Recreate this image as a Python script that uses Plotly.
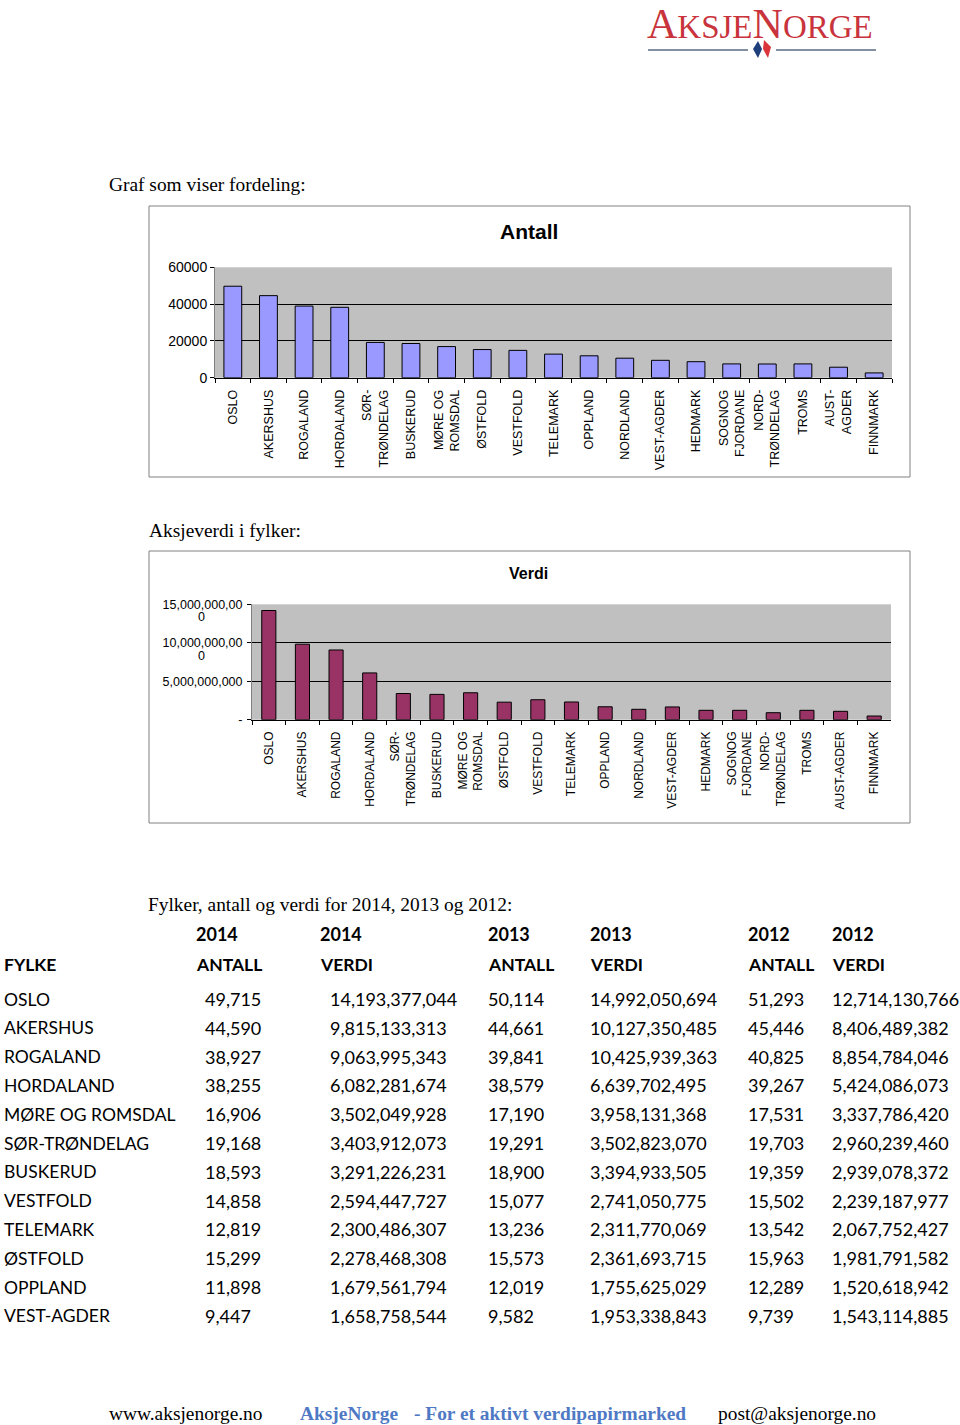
import plotly.graph_objs as go

W, H = 960, 1425

# chart data (bars ordered by antall 2014)
fylker = ["OSLO", "AKERSHUS", "ROGALAND", "HORDALAND", "SØR-TRØNDELAG", "BUSKERUD",
          "MØRE OG ROMSDAL", "ØSTFOLD", "VESTFOLD", "TELEMARK", "OPPLAND", "NORDLAND",
          "VEST-AGDER", "HEDMARK", "SOGN OG FJORDANE", "NORD-TRØNDELAG", "TROMS",
          "AUST-AGDER", "FINNMARK"]
labels_antall = ["OSLO", "AKERSHUS", "ROGALAND", "HORDALAND", "SØR-<br>TRØNDELAG", "BUSKERUD",
                 "MØRE OG<br>ROMSDAL", "ØSTFOLD", "VESTFOLD", "TELEMARK", "OPPLAND", "NORDLAND",
                 "VEST-AGDER", "HEDMARK", "SOGNOG<br>FJORDANE", "NORD-<br>TRØNDELAG", "TROMS",
                 "AUST-<br>AGDER", "FINNMARK"]
labels_verdi = ["OSLO", "AKERSHUS", "ROGALAND", "HORDALAND", "SØR-<br>TRØNDELAG", "BUSKERUD",
                "MØRE OG<br>ROMSDAL", "ØSTFOLD", "VESTFOLD", "TELEMARK", "OPPLAND", "NORDLAND",
                "VEST-AGDER", "HEDMARK", "SOGNOG<br>FJORDANE", "NORD-<br>TRØNDELAG", "TROMS",
                "AUST-AGDER", "FINNMARK"]
antall_graf = [49715, 44590, 38927, 38255, 19168, 18593, 16906, 15299, 14858, 12819, 11898,
               10600, 9447, 8700, 7500, 7450, 7500, 5700, 2600]
verdi_graf = [14193377044, 9815133313, 9063995343, 6082281674, 3403912073, 3291226231,
              3502049928, 2278468308, 2594447727, 2300486307, 1679561794, 1350000000,
              1658758544, 1220000000, 1220000000, 910000000, 1220000000, 1090000000, 480000000]
verdi_ticks = [0, 5000000000, 10000000000, 15000000000]
verdi_ticktext = ["-", "5,000,000,000", "10,000,000,00", "15,000,000,00"]

# table data
tab_years = ["2014", "2014", "2013", "2013", "2012", "2012"]
tab_heads = ["ANTALL", "VERDI", "ANTALL", "VERDI", "ANTALL", "VERDI"]
tab_fylke = ["OSLO", "AKERSHUS", "ROGALAND", "HORDALAND", "MØRE OG ROMSDAL", "SØR-TRØNDELAG",
             "BUSKERUD", "VESTFOLD", "TELEMARK", "ØSTFOLD", "OPPLAND", "VEST-AGDER"]
antall_2014 = [49715, 44590, 38927, 38255, 16906, 19168, 18593, 14858, 12819, 15299, 11898, 9447]
verdi_2014 = [14193377044, 9815133313, 9063995343, 6082281674, 3502049928, 3403912073,
              3291226231, 2594447727, 2300486307, 2278468308, 1679561794, 1658758544]
antall_2013 = [50114, 44661, 39841, 38579, 17190, 19291, 18900, 15077, 13236, 15573, 12019, 9582]
verdi_2013 = [14992050694, 10127350485, 10425939363, 6639702495, 3958131368, 3502823070,
              3394933505, 2741050775, 2311770069, 2361693715, 1755625029, 1953338843]
antall_2012 = [51293, 45446, 40825, 39267, 17531, 19703, 19359, 15502, 13542, 15963, 12289, 9739]
verdi_2012 = [12714130766, 8406489382, 8854784046, 5424086073, 3337786420, 2960239460,
              2939078372, 2239187977, 2067752427, 1981791582, 1520618942, 1543114885]


def px(x):
    return x / W


def py(y):
    return 1 - y / H


SERIF = "Liberation Serif, Times New Roman, serif"
ARIAL = "Liberation Sans, Arial, sans-serif"
CAL = "Lato, Calibri, sans-serif"

annotations = []


def txt(x, y, s, size, font=SERIF, color="#000", xanchor="left", bold=False):
    if bold:
        s = "<b>" + s + "</b>"
    if xanchor == "left":
        x -= 2  # annotation padding
    annotations.append(dict(x=px(x), y=py(y), xref="paper", yref="paper", text=s,
                            showarrow=False, xanchor=xanchor, yanchor="middle",
                            font=dict(family=font, size=size, color=color)))


bar1 = go.Bar(x=fylker, y=antall_graf, xaxis="x", yaxis="y", width=0.5,
              marker=dict(color="#9999FF", line=dict(color="#000", width=1)))
bar2 = go.Bar(x=fylker, y=verdi_graf, xaxis="x2", yaxis="y2", width=0.42,
              marker=dict(color="#993366", line=dict(color="#000", width=1)))

axis_common = dict(showline=True, linecolor="#000", linewidth=1, ticks="outside",
                   ticklen=4, tickcolor="#000", tickson="boundaries", tickangle=-90,
                   showgrid=False, automargin=False, ticklabelstandoff=6,
                   tickmode="array", tickvals=fylker)

layout = go.Layout(
    width=W, height=H, margin=dict(l=0, r=0, t=0, b=0, pad=0), autosize=False,
    paper_bgcolor="white", plot_bgcolor="#C0C0C0", showlegend=False,
    xaxis=dict(domain=[px(215), px(892)], anchor="y", ticktext=labels_antall,
               tickfont=dict(family=ARIAL, size=12.5, color="#000"), **axis_common),
    yaxis=dict(domain=[py(377.7), py(267.3)], anchor="x", range=[0, 60000], dtick=20000,
               tickformat="d", automargin=False,
               showgrid=True, gridcolor="#000", gridwidth=1, showline=True, linecolor="#808080",
               ticks="outside", ticklen=4, tickcolor="#000", zeroline=False,
               tickfont=dict(family=ARIAL, size=14, color="#000")),
    xaxis2=dict(domain=[px(252), px(891)], anchor="y2", ticktext=labels_verdi,
                tickfont=dict(family=ARIAL, size=12, color="#000"), **axis_common),
    yaxis2=dict(domain=[py(719.7), py(604.3)], anchor="x2", range=[0, 15000000000],
                tickmode="array", tickvals=verdi_ticks, ticktext=verdi_ticktext,
                automargin=False, ticklabelstandoff=2,
                showgrid=True, gridcolor="#000", gridwidth=1, showline=True, linecolor="#808080",
                ticks="outside", ticklen=4, tickcolor="#000", zeroline=False,
                tickfont=dict(family=ARIAL, size=12.5, color="#000")),
)

# the wrapped last digit of the two top verdi tick labels
for v in verdi_ticks[2:]:
    annotations.append(dict(x=px(201), y=v, xref="paper", yref="y2", text="0", showarrow=False,
                            xanchor="center", yanchor="top", yshift=-4,
                            font=dict(family=ARIAL, size=12.5, color="#000")))

shapes = [
    dict(type="rect", xref="paper", yref="paper", x0=px(149), x1=px(910), y0=py(206), y1=py(477),
         line=dict(color="#808080", width=1)),
    dict(type="rect", xref="paper", yref="paper", x0=px(149), x1=px(910), y0=py(551), y1=py(823),
         line=dict(color="#808080", width=1)),
    # logo underline + mark
    dict(type="line", xref="paper", yref="paper", x0=px(648), x1=px(748), y0=py(50), y1=py(50),
         line=dict(color="#5A6A85", width=1.5)),
    dict(type="line", xref="paper", yref="paper", x0=px(776), x1=px(876), y0=py(50), y1=py(50),
         line=dict(color="#5A6A85", width=1.5)),
    dict(type="path", xref="paper", yref="paper",
         path="M %f,%f L %f,%f L %f,%f L %f,%f Z" % (px(758), py(41), px(753), py(49),
                                                     px(758), py(58), px(762), py(49)),
         fillcolor="#1F3F7A", line=dict(width=0)),
    dict(type="path", xref="paper", yref="paper",
         path="M %f,%f L %f,%f L %f,%f L %f,%f Z" % (px(764), py(40), px(771), py(47),
                                                     px(768), py(58), px(763), py(49)),
         fillcolor="#D9353B", line=dict(width=0)),
]

# logo text
annotations.append(dict(x=px(760), y=1, xref="paper", yref="paper", showarrow=False,
                        xanchor="center", yanchor="top", borderpad=0,
                        text="<span style='font-size:42px'>A</span>KSJE<span style='font-size:42px'>N</span>ORGE",
                        font=dict(family=SERIF, size=33, color="#C9343C")))

txt(109, 185, "Graf som viser fordeling:", 19.4)
txt(149, 530, "Aksjeverdi i fylker:", 19.4)
txt(148, 904, "Fylker, antall og verdi for 2014, 2013 og 2012:", 19.4)

txt(529, 231, "Antall", 21, ARIAL, bold=True, xanchor="center")
txt(528, 573, "Verdi", 16, ARIAL, bold=True, xanchor="center")

# table
head_x = [196, 320, 488, 590, 748, 832]
val_x = [205, 330, 488, 590, 748, 832]
for hx, yr, hd in zip(head_x, tab_years, tab_heads):
    txt(hx, 934, yr, 18, CAL, bold=True)
    txt(hx, 964, hd, 17.5, CAL, bold=True)
txt(4, 964, "FYLKE", 17.5, CAL, bold=True)

cols = [antall_2014, verdi_2014, antall_2013, verdi_2013, antall_2012, verdi_2012]
for i, f in enumerate(tab_fylke):
    yy = 999 + i * 28.8
    txt(4, yy, f, 17.5, CAL)
    for cx, col in zip(val_x, cols):
        txt(cx, yy, "{:,}".format(col[i]), 18, CAL)

# footer
txt(109, 1413, "www.aksjenorge.no", 19.4)
txt(300, 1413, "AksjeNorge", 19.4, color="#4F79C4", bold=True)
txt(414, 1413, "- For et aktivt verdipapirmarked", 19.4, color="#4F79C4", bold=True)
txt(718, 1413, "post@aksjenorge.no", 19.4)

layout.annotations = annotations
layout.shapes = shapes

fig = go.Figure(data=[bar1, bar2], layout=layout)
fig.write_html("out.html", config={"displayModeBar": False},
               post_script="document.body.style.margin='0';")
